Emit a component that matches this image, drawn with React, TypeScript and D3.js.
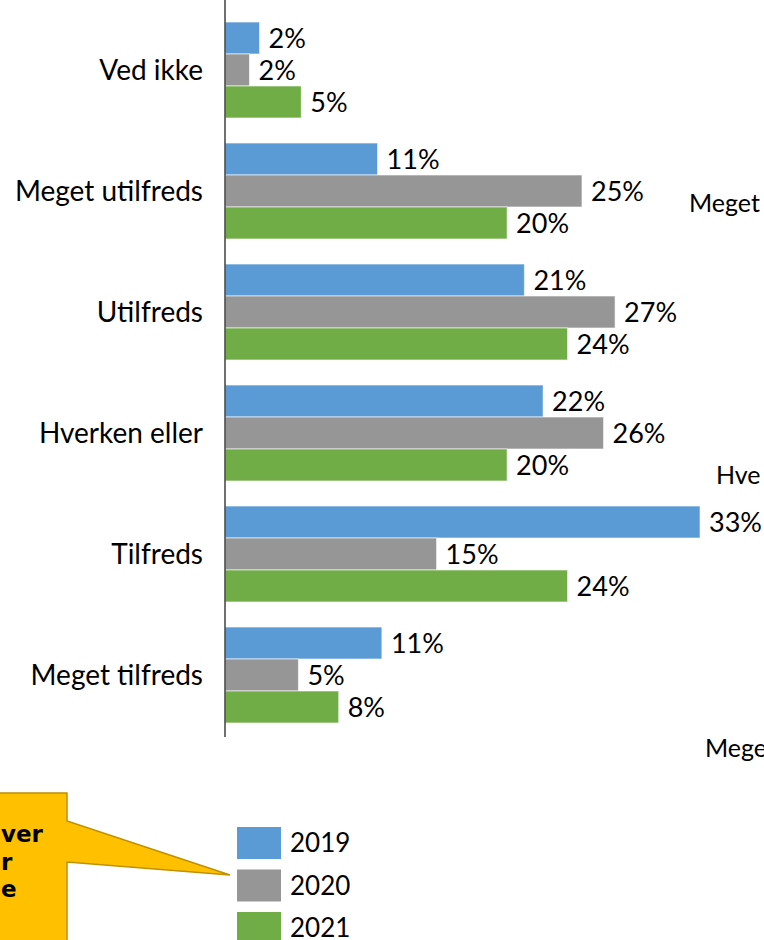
import React, { useEffect, useRef } from 'react'
import * as d3 from 'd3'

const categories = ['Ved ikke', 'Meget utilfreds', 'Utilfreds', 'Hverken eller', 'Tilfreds', 'Meget tilfreds']
const years = ['2019', '2020', '2021']
const values2019 = [2.4, 10.6, 20.8, 22.1, 33.0, 10.9]
const values2020 = [1.7, 24.8, 27.1, 26.3, 14.7, 5.1]
const values2021 = [5.3, 19.6, 23.8, 19.6, 23.8, 7.9]
const colors = ['#5B9BD5', '#969696', '#70AD47']
// visible pieces of the neighbouring chart's labels at the right edge
const rightLabels = ['Meget', 'Hve', 'Mege']
const calloutLines = ['ver', 'r', 'e']

const FONT = 'Lato, "Open Sans", sans-serif'

export default function App() {
  const svgRef = useRef<SVGSVGElement>(null)

  useEffect(() => {
    const svg = d3.select(svgRef.current)
    svg.selectAll('*').remove()

    const width = 764
    const height = 940
    const x0 = 225

    const series = [values2019, values2020, values2021]

    const x = d3.scaleLinear().domain([0, 33]).range([x0, 700])
    const y = d3.scaleBand<string>()
      .domain(categories)
      .range([9.5, 735.5])
      .paddingInner(0.207)
      .paddingOuter(0.1035)
    const yInner = d3.scaleBand<string>().domain(years).range([0, y.bandwidth()])

    const g = svg.attr('width', width).attr('height', height).append('g')

    // bars
    categories.forEach((cat, ci) => {
      years.forEach((yr, si) => {
        const v = series[si][ci]
        const top = (y(cat) || 0) + (yInner(yr) || 0)
        g.append('rect')
          .attr('x', x0)
          .attr('y', top)
          .attr('width', x(v) - x0)
          .attr('height', yInner.bandwidth())
          .attr('fill', colors[si])
          .attr('stroke', '#ffffff')
          .attr('stroke-opacity', 0.6)
          .attr('stroke-width', 1)
        g.append('text')
          .attr('x', x(v) + 9)
          .attr('y', top + yInner.bandwidth() / 2)
          .attr('dy', '0.36em')
          .style('font-family', FONT)
          .style('font-size', '27px')
          .style('fill', '#000')
          .text(Math.round(v) + '%')
      })
    })

    // category labels
    g.selectAll('text.cat')
      .data(categories)
      .enter()
      .append('text')
      .attr('class', 'cat')
      .attr('x', 203)
      .attr('y', d => (y(d) || 0) + y.bandwidth() / 2)
      .attr('dy', '0.36em')
      .attr('text-anchor', 'end')
      .style('font-family', FONT)
      .style('font-size', '28px')
      .style('fill', '#000')
      .text(d => d)

    // axis line
    g.append('line')
      .attr('x1', x0).attr('x2', x0)
      .attr('y1', 0).attr('y2', 737)
      .attr('stroke', '#404040')
      .attr('stroke-width', 1.5)

    // labels from the next chart at the right edge
    const rightPos = [[689, 212], [716, 484], [705, 757]]
    rightLabels.forEach((t, i) => {
      g.append('text')
        .attr('x', rightPos[i][0])
        .attr('y', rightPos[i][1])
        .style('font-family', FONT)
        .style('font-size', '25px')
        .style('fill', '#000')
        .text(t)
    })

    // callout
    g.append('path')
      .attr('d', 'M-10,793 L67,793 L67,821 L230,875 L67,862 L67,950 L-10,950 Z')
      .attr('fill', '#FFC000')
      .attr('stroke', '#BF9000')
      .attr('stroke-width', 1.5)
    const calloutPos = [[1, 842], [1, 870], [1, 897]]
    calloutLines.forEach((t, i) => {
      g.append('text')
        .attr('x', calloutPos[i][0])
        .attr('y', calloutPos[i][1])
        .style('font-family', '"DejaVu Sans", sans-serif')
        .style('font-weight', 'bold')
        .style('font-size', '23px')
        .style('fill', '#000')
        .text(t)
    })

    // legend
    const legend = g.selectAll('g.leg')
      .data(years)
      .enter()
      .append('g')
      .attr('class', 'leg')
      .attr('transform', (_d, i) => `translate(237, ${827 + i * 42.5})`)
    legend.append('rect')
      .attr('width', 44)
      .attr('height', 32)
      .attr('fill', (_d, i) => colors[i])
    legend.append('text')
      .attr('x', 53)
      .attr('y', 16)
      .attr('dy', '0.36em')
      .style('font-family', FONT)
      .style('font-size', '26px')
      .style('fill', '#000')
      .text(d => d)
  }, [])

  return (
    <div style={{ position: 'absolute', left: 0, top: 0, width: 764, height: 940, overflow: 'hidden', background: '#fff' }}>
      <svg ref={svgRef} style={{ display: 'block' }} />
    </div>
  )
}
